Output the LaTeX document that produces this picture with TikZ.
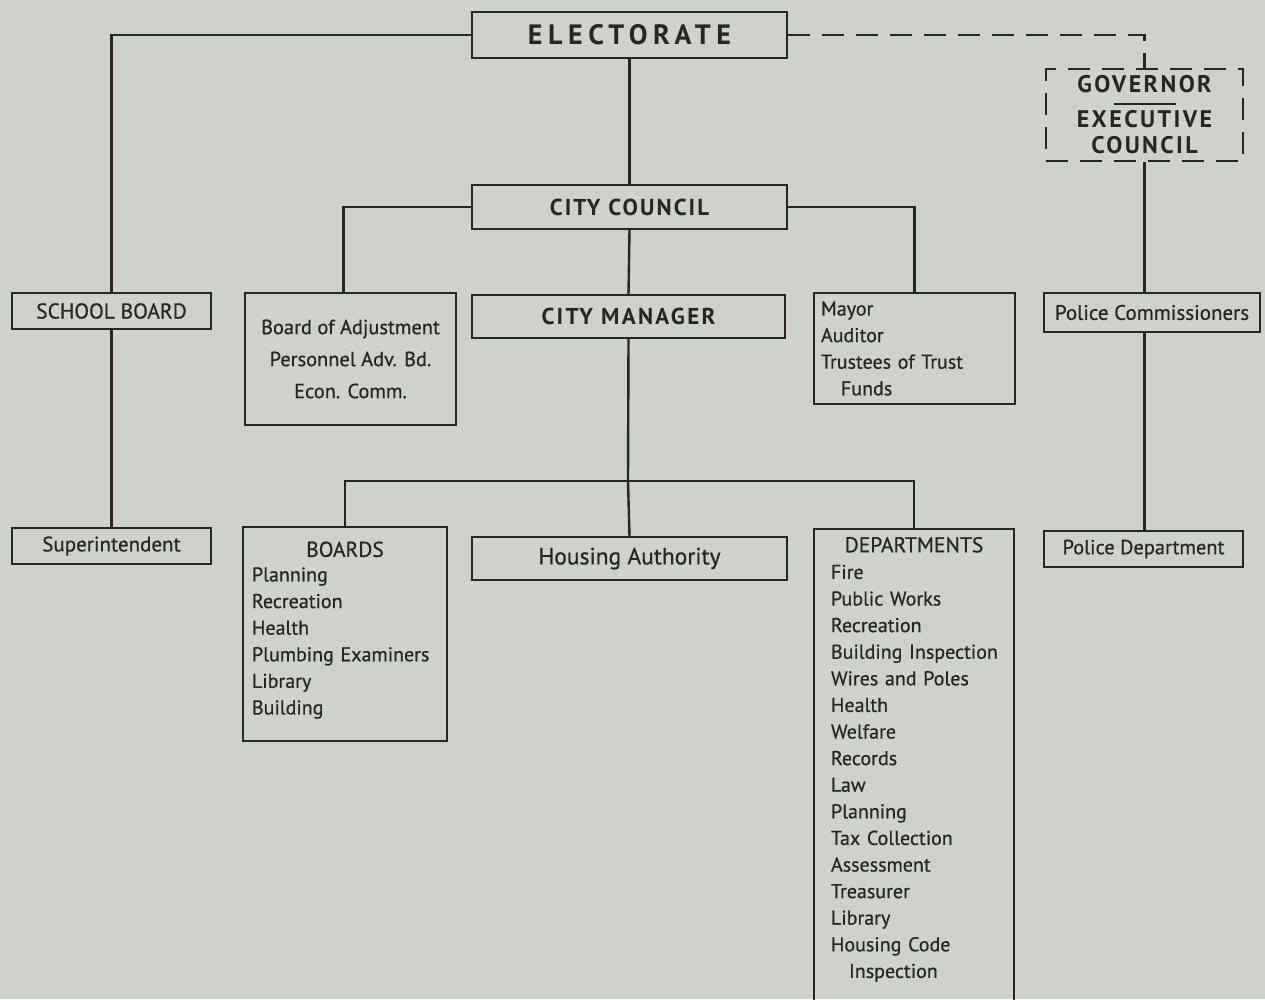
\documentclass[tikz,border=0pt]{standalone}
\usepackage{fontspec}
\setmainfont{PT Sans}
\usetikzlibrary{positioning}
\definecolor{paper}{RGB}{207,209,203}
\definecolor{ink}{RGB}{42,37,37}
\newcommand\listfont{\fontsize{20}{26.6}\selectfont\addfontfeature{FakeBold=0.6}}
\newcommand\capsfont{\fontsize{21.5}{26}\selectfont\addfontfeature{FakeBold=0.6}}
\newcommand\headfont{\fontsize{23}{26}\selectfont\bfseries\addfontfeature{LetterSpace=9}}

\begin{document}
\begin{tikzpicture}[x=1pt,y=-1pt,
box/.style={draw=ink, line width=2pt, text=ink, inner sep=0pt, anchor=north west},
listbox/.style={box, align=left, inner xsep=#1, inner ysep=8pt},
link/.style={draw=ink, line width=2.4pt},
gap/.style={dash pattern=on 22pt off 12pt},
]
\fill[paper] (0,0) rectangle (1265,999);
\useasboundingbox (0,0) rectangle (1265,999);

%Nodes
\node[box, minimum width=315, minimum height=46, font=\fontsize{28}{30}\selectfont\bfseries\addfontfeature{LetterSpace=20}] (elect) at (471,11) {ELECTORATE};
\node[box, minimum width=315, minimum height=44, font=\headfont] (council) at (471,184) {CITY COUNCIL};
\node[box, minimum width=313, minimum height=43, font=\headfont\addfontfeature{LetterSpace=10}] (manager) at (471,294) {CITY MANAGER};
\node[box, minimum width=199, minimum height=36, font=\capsfont] (school) at (11,292) {SCHOOL BOARD};
\node[box, minimum width=199, minimum height=36, font=\listfont\fontsize{21}{26}\selectfont] (super) at (11,527) {Superintendent};
\node[box, minimum width=211, minimum height=132, align=center, font=\listfont\fontsize{20.4}{32}\selectfont] (boa) at (244,292) {Board of Adjustment\\Personnel Adv. Bd.\\Econ. Comm.};
\node[listbox=7pt, text width=187, minimum width=201, minimum height=111, font=\listfont] (mayor) at (813,292) {Mayor\\Auditor\\Trustees of Trust\\\hspace*{20pt}Funds};
\node[box, gap, minimum width=197, minimum height=92, align=center, font=\fontsize{24}{26}\selectfont\bfseries\addfontfeature{LetterSpace=10}] (gov) at (1045,68) {GOVERNOR\\[9pt]EXECUTIVE\\COUNCIL};
\node[box, minimum width=216, minimum height=39, font=\listfont\fontsize{21}{26}\selectfont] (pc) at (1043,292) {Police Commissioners};
\node[box, minimum width=199, minimum height=36, font=\listfont\fontsize{20.4}{26}\selectfont] (pd) at (1043,530) {Police Department};
\node[listbox=9pt, text width=186, minimum width=204, minimum height=214, font=\listfont] (boards) at (242,526) {\makebox[186pt]{\fontsize{21.5}{26}\selectfont BOARDS}\\[-2pt]Planning\\Recreation\\Health\\Plumbing Examiners\\Library\\Building\rule[-12pt]{0pt}{1pt}};
\node[box, minimum width=315, minimum height=43, font=\listfont\fontsize{23.5}{26}\selectfont] (housing) at (471,536) {Housing Authority};
\node[listbox=12pt, text width=176, minimum width=200, font=\listfont] (depts) at (813,528) {\makebox[176pt]{\fontsize{21.5}{26}\selectfont DEPARTMENTS}\\\hspace*{5pt}Fire\\\hspace*{5pt}Public Works\\\hspace*{5pt}Recreation\\\hspace*{5pt}Building Inspection\\\hspace*{5pt}Wires and Poles\\\hspace*{5pt}Health\\\hspace*{5pt}Welfare\\\hspace*{5pt}Records\\\hspace*{5pt}Law\\\hspace*{5pt}Planning\\\hspace*{5pt}Tax Collection\\\hspace*{5pt}Assessment\\\hspace*{5pt}Treasurer\\\hspace*{5pt}Library\\\hspace*{5pt}Housing Code\\\hspace*{23pt}Inspection\\\rule{0pt}{40pt}};
\coordinate (split) at (628,481);

%Lines
\draw[link] (elect.west) -| (school.north);
\draw[link, gap] (elect.east) -| (gov.north);
\draw[link] (elect.south) -- (council.north);
\draw[link] (council.west) -| ([xshift=-7pt]boa.north);
\draw[link] (council.east) -| (mayor.north);
\draw[link] (council.south) -- (manager.north);
\draw[link] (school.south) -- (super.north);
\draw[link] (gov.south) -- (gov.south |- pc.north);
\draw[link] (gov.south |- pc.south) -- (gov.south |- pd.north);
\draw[link] (manager.south) -- (split);
\draw[link] (boards.north) |- (split) -| (depts.north);
\draw[link] (split) -- (housing.north);
\draw[link] ([xshift=-31pt,yshift=11pt]gov.center) -- ++(62,0);
\end{tikzpicture}
\end{document}
